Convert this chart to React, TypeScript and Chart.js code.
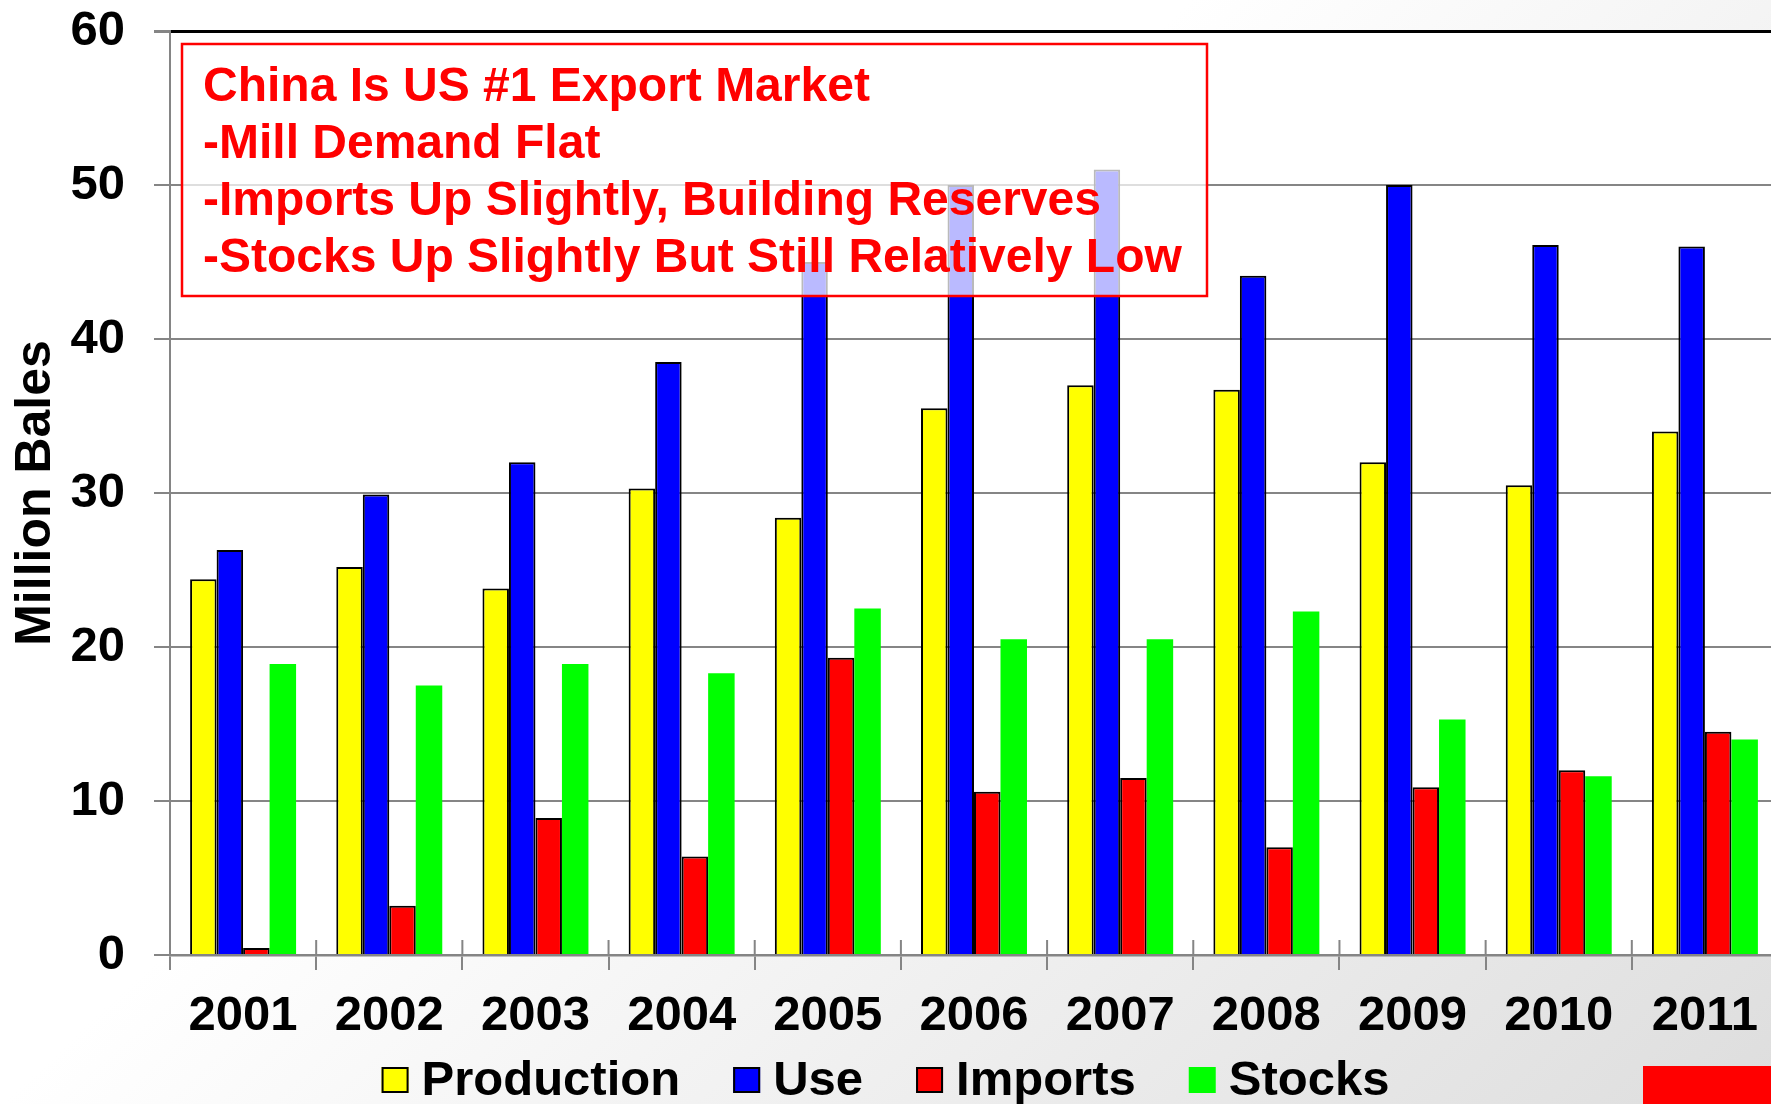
import React, { useEffect, useRef } from "react";
import { Chart, registerables } from "chart.js";

Chart.register(...registerables);

const FONT = '"Liberation Sans", Arial, Helvetica, sans-serif';

const years = ["2001", "2002", "2003", "2004", "2005", "2006", "2007", "2008", "2009", "2010", "2011"];
const production = [24.4, 25.2, 23.8, 30.3, 28.4, 35.5, 37.0, 36.7, 32.0, 30.5, 34.0];
const use = [26.3, 29.9, 32.0, 38.5, 45.0, 50.0, 51.0, 44.1, 50.0, 46.1, 46.0];
const imports = [0.45, 3.2, 8.9, 6.4, 19.3, 10.6, 11.5, 7.0, 10.9, 12.0, 14.5];
const stocks = [18.9, 17.5, 18.9, 18.3, 22.5, 20.5, 20.5, 22.3, 15.3, 11.6, 14.0];
const seriesLabels = ["Production", "Use", "Imports", "Stocks"];
const seriesColors = ["#ffff00", "#0000ff", "#ff0000", "#00ff00"];
const seriesBorderWidths = [2, 2, 2, 0];
const yMin = 0;
const yMax = 60;
const yStep = 10;
const yTitle = "Million Bales";
const noteLines = [
  "China Is US #1 Export Market",
  "-Mill Demand Flat",
  "-Imports Up Slightly, Building Reserves",
  "-Stocks Up Slightly But Still Relatively Low",
];

export default function App() {
  const ref = useRef<HTMLCanvasElement | null>(null);

  useEffect(() => {
    const canvas = ref.current;
    if (!canvas) return;

    const bgPlugin = {
      id: "bgPlugin",
      beforeDraw(chart: any) {
        const { ctx, chartArea: a } = chart;
        ctx.save();
        const g = ctx.createLinearGradient(551, 593, 1632, 1757);
        g.addColorStop(0, "#ffffff");
        g.addColorStop(1, "#d3d3d3");
        ctx.fillStyle = g;
        ctx.fillRect(0, 0, chart.width, chart.height);
        ctx.fillStyle = "#ffffff";
        ctx.fillRect(a.left, a.top, a.right - a.left, a.bottom - a.top);
        ctx.restore();
      },
    };

    const upTicksPlugin = {
      id: "upTicks",
      afterDatasetsDraw(chart: any) {
        const { ctx, chartArea: a } = chart;
        const n = chart.data.labels.length;
        const w = (a.right - a.left) / n;
        ctx.save();
        ctx.strokeStyle = "#858585";
        ctx.lineWidth = 2;
        ctx.beginPath();
        for (let i = 1; i <= n; i++) {
          const x = a.left + i * w;
          ctx.moveTo(x, a.bottom);
          ctx.lineTo(x, a.bottom - 15);
        }
        ctx.stroke();
        ctx.restore();
      },
    };

    const notePlugin = {
      id: "notePlugin",
      afterDatasetsDraw(chart: any) {
        const { ctx } = chart;
        ctx.save();
        const bx = 182, by = 44, bw = 1025, bh = 252;
        ctx.fillStyle = "rgba(255,255,255,0.73)";
        ctx.fillRect(bx, by, bw, bh);
        ctx.strokeStyle = "#ff0000";
        ctx.lineWidth = 2.5;
        ctx.strokeRect(bx, by, bw, bh);
        ctx.fillStyle = "#ff0000";
        ctx.font = `bold 48px ${FONT}`;
        ctx.textBaseline = "alphabetic";
        ctx.textAlign = "left";
        noteLines.forEach((line, i) => {
          ctx.fillText(line, 203, 101 + i * 57);
        });
        ctx.restore();
      },
    };

    const legendPlugin = {
      id: "customLegend",
      afterDraw(chart: any) {
        const { ctx } = chart;
        ctx.save();
        ctx.font = `bold 49px ${FONT}`;
        const sw = 27, sh = 26, gapText = 13, gapItem = 53;
        const items = chart.data.datasets.map((ds: any) => ({
          label: ds.label,
          color: ds.backgroundColor,
          bw: ds.borderWidth,
          tw: ctx.measureText(ds.label).width,
        }));
        let total = 0;
        items.forEach((it: any, i: number) => {
          total += sw + gapText + it.tw + (i < items.length - 1 ? gapItem : 0);
        });
        let x = 885.5 - total / 2;
        const cy = 1080;
        items.forEach((it: any) => {
          ctx.fillStyle = it.color;
          ctx.fillRect(x, cy - sh / 2, sw, sh);
          if (it.bw > 0) {
            ctx.strokeStyle = "#000000";
            ctx.lineWidth = 2;
            ctx.strokeRect(x + 1, cy - sh / 2 + 1, sw - 2, sh - 2);
          }
          ctx.fillStyle = "#000000";
          ctx.textBaseline = "middle";
          ctx.textAlign = "left";
          ctx.fillText(it.label, x + sw + gapText, cy + 1);
          x += sw + gapText + it.tw + gapItem;
        });
        // logo block bottom right
        ctx.fillStyle = "#ff0000";
        ctx.fillRect(1643, 1066, 200, 60);
        ctx.restore();
      },
    };

    const datasets = [production, use, imports, stocks].map((data, i) => ({
      label: seriesLabels[i],
      data,
      backgroundColor: seriesColors[i],
      borderColor: "#000000",
      borderWidth: seriesBorderWidths[i],
      categoryPercentage: 0.725,
      barPercentage: 1.0,
    }));

    const chart = new Chart(canvas, {
      type: "bar",
      data: { labels: years, datasets },
      options: {
        responsive: false,
        animation: false,
        devicePixelRatio: 1,
        layout: { padding: { top: 31, right: 22, left: 0, bottom: 0 } },
        plugins: {
          legend: { display: false },
          tooltip: { enabled: false },
        },
        scales: {
          x: {
            offset: true,
            grid: {
              offset: true,
              drawOnChartArea: false,
              color: "#858585",
              tickColor: "#858585",
              lineWidth: 2,
              tickLength: 15,
            },
            border: { color: "#858585", width: 2.5 },
            ticks: {
              color: "#000000",
              font: { family: FONT, size: 49, weight: "bold" },
              padding: 17,
              maxRotation: 0,
              autoSkip: false,
            },
            afterFit: (s: any) => {
              s.height = 149;
            },
          },
          y: {
            min: yMin,
            max: yMax,
            ticks: {
              stepSize: yStep,
              color: "#000000",
              font: { family: FONT, size: 49, weight: "bold" },
              padding: 29,
            },
            grid: {
              color: (c: any) => (c.tick && c.tick.value === yMax ? "#000000" : "#858585"),
              lineWidth: (c: any) => (c.tick && c.tick.value === yMax ? 3 : 2),
              tickColor: "#858585",
              tickLength: 16,
            },
            border: { color: "#858585", width: 2 },
            title: {
              display: true,
              text: yTitle,
              color: "#000000",
              font: { family: FONT, size: 50, weight: "bold" },
              padding: { top: 6, bottom: 0 },
            },
            afterFit: (s: any) => {
              s.width = 170;
              s.paddingTop = 0;
            },
          },
        },
      },
      plugins: [bgPlugin, upTicksPlugin, notePlugin, legendPlugin],
    } as any);

    return () => chart.destroy();
  }, []);

  return (
    <div
      style={{
        position: "fixed",
        left: 0,
        top: 0,
        width: 1771,
        height: 1104,
        overflow: "hidden",
        background: "#ffffff",
      }}
    >
      <canvas ref={ref} width={1800} height={1104} style={{ display: "block", width: 1800, height: 1104 }} />
    </div>
  );
}
